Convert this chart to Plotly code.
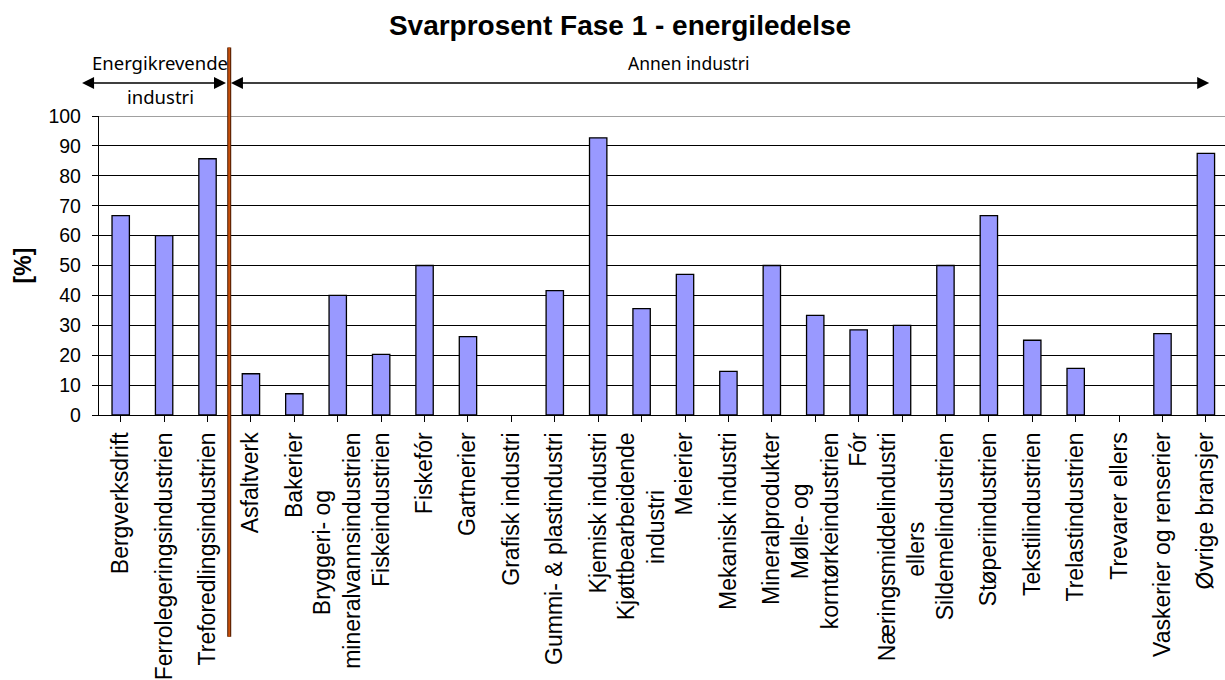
import plotly.graph_objects as go

categories = [
    "Bergverksdrift", "Ferrolegeringsindustrien", "Treforedlingsindustrien",
    "Asfaltverk", "Bakerier", "Bryggeri- og mineralvannsindustrien",
    "Fiskeindustrien", "Fiskefór", "Gartnerier", "Grafisk industri",
    "Gummi- & plastindustri", "Kjemisk industri", "Kjøttbearbeidende industri",
    "Meierier", "Mekanisk industri", "Mineralprodukter",
    "Mølle- og korntørkeindustrien", "Fór", "Næringsmiddelindustri ellers",
    "Sildemelindustrien", "Støperiindustrien", "Tekstilindustrien",
    "Trelastindustrien", "Trevarer ellers", "Vaskerier og renserier",
    "Øvrige bransjer",
]
tick_labels = [
    "Bergverksdrift", "Ferrolegeringsindustrien", "Treforedlingsindustrien",
    "Asfaltverk", "Bakerier", "Bryggeri- og<br>mineralvannsindustrien",
    "Fiskeindustrien", "Fiskefór", "Gartnerier", "Grafisk industri",
    "Gummi- & plastindustri", "Kjemisk industri", "Kjøttbearbeidende<br>industri",
    "Meierier", "Mekanisk industri", "Mineralprodukter",
    "Mølle- og<br>korntørkeindustrien", "Fór", "Næringsmiddelindustri<br>ellers",
    "Sildemelindustrien", "Støperiindustrien", "Tekstilindustrien",
    "Trelastindustrien", "Trevarer ellers", "Vaskerier og renserier",
    "Øvrige bransjer",
]
svarprosent = [
    66.7, 60.0, 85.7,
    13.8, 7.1, 40.0,
    20.3, 50.0, 26.2, 0.0,
    41.6, 92.7, 35.6,
    47.0, 14.6, 50.0,
    33.3, 28.5, 30.0,
    50.0, 66.7, 25.0,
    15.6, 0.0, 27.2,
    87.5,
]
y_ticks = [0, 10, 20, 30, 40, 50, 60, 70, 80, 90, 100]

title_text = "Svarprosent Fase 1 - energiledelse"
y_title = "[%]"
group_left = ("Energikrevende", "industri")
group_right = "Annen industri"

FONT = "Liberation Sans, Arial, sans-serif"
HAND = "Comic Sans MS, Noto Sans, sans-serif"

# visual centring of the shorter line in two-line labels (trailing no-break spaces)
line_pad = {5: (9, 0), 12: (0, 9), 16: (8, 0), 18: (0, 14)}


def centred(i, label):
    if i not in line_pad:
        return label
    lines = label.split("<br>")
    return "<br>".join(l + "\u00a0" * n for l, n in zip(lines, line_pad[i]))


shown_labels = [centred(i, t) for i, t in enumerate(tick_labels)]

x_idx = list(range(len(categories)))
# no outline for empty bars (as in the original)
outline_w = [1.3 if v > 0 else 0 for v in svarprosent]

fig = go.Figure()
fig.add_trace(go.Bar(
    x=x_idx, y=svarprosent, width=0.4,
    marker=dict(color="#9999FF", line=dict(color="#000000", width=outline_w)),
    hovertext=categories, hoverinfo="text+y",
))

fig.update_layout(
    width=1225, height=680,
    margin=dict(l=99, r=0, t=116, b=265, autoexpand=False),
    paper_bgcolor="white", plot_bgcolor="white",
    showlegend=False,
    title=dict(text=f"<b>{title_text}</b>", x=620/1225, xanchor="center",
               y=1 - 25/680, yanchor="middle",
               font=dict(family=FONT, size=28, color="black")),
    font=dict(family=FONT, color="black"),
    bargap=0.6,
)

fig.update_xaxes(
    range=[-0.5, 25.44], tickmode="array", tickvals=x_idx, ticktext=shown_labels,
    tickangle=-90, tickfont=dict(family=FONT, size=23, color="black"),
    ticks="outside", ticklen=6, tickcolor="#000", tickwidth=1,
    tickson="boundaries", ticklabelstandoff=1,
    showline=True, linecolor="#000", linewidth=1.3,
    showgrid=False, zeroline=False, automargin=False,
)
fig.update_yaxes(
    range=[0, 100], tickmode="array", tickvals=y_ticks,
    tickfont=dict(family=FONT, size=19.5, color="black"),
    ticks="outside", ticklen=6, tickcolor="#000", tickwidth=1,
    ticklabelstandoff=7,
    showline=True, linecolor="#000", linewidth=1.3,
    showgrid=True, gridcolor="#000", gridwidth=1, zeroline=False,
    automargin=False,
    title=dict(text=f"<b>{y_title}</b>", font=dict(family=FONT, size=23, color="black"),
               standoff=10),
)

# gray top border of plot area
fig.add_shape(type="line", xref="paper", yref="y", x0=0, x1=1, y0=100, y1=100,
              line=dict(color="#a0a0a0", width=2), layer="above")

# separator between groups (at category boundary 2.5)
for col, w in (("#4a1a00", 4), ("#C8500A", 2)):
    fig.add_shape(type="line", xref="x", yref="paper", x0=2.5, x1=2.5,
                  y0=-0.742, y1=1.229, line=dict(color=col, width=w), layer="above")

arrow_y = (415 - 83) / 299
text_y1 = (415 - 63) / 299
text_y2 = (415 - 96) / 299

# double-headed arrows
for head, tail in ((-0.89, 2.46), (2.54, 25.11)):
    fig.add_annotation(x=head, y=arrow_y, xref="x", yref="paper",
                       ax=tail, ay=0, axref="x", ayref="pixel", text="",
                       showarrow=True, arrowhead=2, arrowside="end+start",
                       arrowsize=1.6, arrowwidth=1.5, arrowcolor="#000",
                       standoff=0, startstandoff=0)

for x, y, t, s in ((0.91, text_y1, group_left[0], 18.5), (0.91, text_y2, group_left[1], 18.5),
                   (13.07, text_y1, group_right, 17.5)):
    fig.add_annotation(x=x, y=y, xref="x", yref="paper", text=t,
                       xanchor="center", yanchor="middle", showarrow=False,
                       font=dict(family=HAND, size=s, color="black"))

fig.write_html("out.html", config={"displayModeBar": False},
               post_script="document.body.style.margin='0px';")
